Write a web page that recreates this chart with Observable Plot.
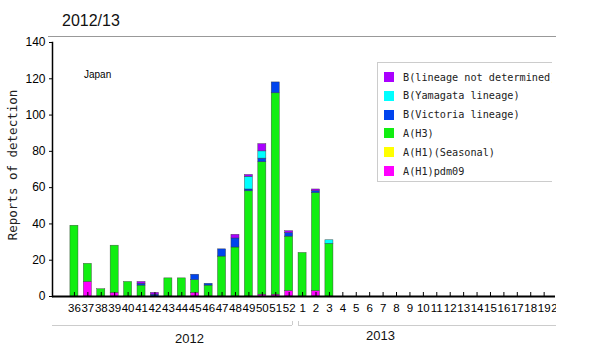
<!DOCTYPE html>
<html>
<head>
<meta charset="utf-8">
<script src="https://cdn.jsdelivr.net/npm/d3@7"></script>
<script src="https://cdn.jsdelivr.net/npm/@observablehq/plot@0.6"></script>
<style>
  body { margin: 0; background: #fff; }
  #wrap { position: relative; width: 556px; height: 360px; overflow: hidden; font-family: "Liberation Sans", Arial, sans-serif; }
  #wrap svg { position: absolute; left: 0; top: 0; max-width: none !important; width: 600px; height: 360px; }
  .abs { position: absolute; white-space: nowrap; }
</style>
</head>
<body>
<div id="wrap"></div>
<script>
// ---- data ----
const weeks = ["36","37","38","39","40","41","42","43","44","45","46","47","48","49","50","51","52",
               "1","2","3","4","5","6","7","8","9","10","11","12","13","14","15","16","17","18","19","20"];
// series listed bottom -> top of the stack
const seriesNames = ["A(H1)pdm09", "A(H1)(Seasonal)", "A(H3)", "B(Victoria lineage)", "B(Yamagata lineage)", "B(lineage not determined)"];
const seriesColors = ["#ff00ff", "#ffff00", "#11ee11", "#0044ee", "#00ffff", "#aa00ff"];
const pdm09    = [0,8,0,2,0,0,0,0,0,2,0,0,0,0,1,1,3, 0,3,0, 0,0,0,0,0,0,0,0,0,0,0,0,0,0,0,0,0];
const seasonal = [0,0,0,0,0,0,0,0,0,0,0,0,0,0,0,0,0, 0,0,0, 0,0,0,0,0,0,0,0,0,0,0,0,0,0,0,0,0];
const h3       = [39,10,4,26,8,6,0,10,10,7,6,22,27,58,73,111,30, 24,54,29, 0,0,0,0,0,0,0,0,0,0,0,0,0,0,0,0,0];
const victoria = [0,0,0,0,0,1,1,0,0,3,1,4,5,1,2,6,2, 0,1,0, 0,0,0,0,0,0,0,0,0,0,0,0,0,0,0,0,0];
const yamagata = [0,0,0,0,0,0,0,0,0,0,0,0,0,7,4,0,0, 0,0,2, 0,0,0,0,0,0,0,0,0,0,0,0,0,0,0,0,0];
const notDet   = [0,0,0,0,0,1,1,0,0,0,0,0,2,1,4,0,1, 0,1,0, 0,0,0,0,0,0,0,0,0,0,0,0,0,0,0,0,0];
const yTicks = [0,20,40,60,80,100,120,140];
const years = ["2012", "2013"];
const titleText = "2012/13";
const regionText = "Japan";
const yLabel = "Reports of detection";

const seriesValues = [pdm09, seasonal, h3, victoria, yamagata, notDet];
const rows = [];
weeks.forEach((w, i) => seriesNames.forEach((s, j) => rows.push({week: w, series: s, value: seriesValues[j][i]})));

const plot = Plot.plot({
  width: 600,
  height: 360,
  marginTop: 42,
  marginBottom: 64,
  marginLeft: 52,
  marginRight: 45,
  style: {fontFamily: "'Liberation Sans', Arial, sans-serif", fontSize: "12px", background: "transparent"},
  x: {domain: weeks, range: [69.9, 561.1], paddingInner: 0.4, paddingOuter: 0, round: false, label: null},
  y: {domain: [0, 140], label: null},
  color: {domain: seriesNames, range: seriesColors},
  marks: [
    Plot.barY(rows, {x: "week", y: "value", fill: "series", order: seriesNames, stroke: "#333", strokeWidth: 0.5, strokeOpacity: 0.8}),
    Plot.axisY({ticks: yTicks, tickSize: 3, tickPadding: 4, fontSize: 12, label: null}),
    Plot.axisX({tickSize: -4, tickPadding: 11, fontSize: 11.5, label: null, stroke: "black"}),
    Plot.frame({anchor: "left", stroke: "black", strokeWidth: 1.5}),
    Plot.ruleY([0], {stroke: "black", strokeWidth: 2})
  ]
});

const wrap = document.getElementById("wrap");
wrap.appendChild(plot);

function addDiv(text, css) {
  const d = document.createElement("div");
  d.className = "abs";
  d.textContent = text;
  Object.assign(d.style, css);
  wrap.appendChild(d);
  return d;
}

// title + top rule
addDiv(titleText, {left: "62px", top: "12px", fontSize: "16px", color: "#111"});
addDiv("", {left: "48px", top: "36px", width: "520px", borderTop: "1px solid #999"});
addDiv(regionText, {left: "84px", top: "69px", fontSize: "10px", color: "#000"});

// y label
addDiv(yLabel, {left: "12px", top: "165px", fontFamily: "'DejaVu Sans Mono', monospace", fontSize: "12.5px",
  transform: "translate(-50%, -50%) rotate(-90deg)", color: "#222"});

// legend (right side cut off like the reference)
const leg = addDiv("", {left: "377px", top: "62px", width: "174px", height: "118px", border: "1px solid #ccc", borderRight: "none", background: "#fff", overflow: "hidden"});
seriesNames.slice().reverse().forEach((s, k) => {
  const c = seriesColors[seriesNames.indexOf(s)];
  const row = document.createElement("div");
  Object.assign(row.style, {position: "absolute", left: "6px", top: (8 + k * 18.8) + "px", height: "12px", display: "flex", alignItems: "center", whiteSpace: "nowrap"});
  const sw = document.createElement("span");
  Object.assign(sw.style, {display: "inline-block", width: "10px", height: "10px", background: c, marginRight: "9px", flex: "none"});
  const tx = document.createElement("span");
  tx.textContent = s;
  Object.assign(tx.style, {fontFamily: "'DejaVu Sans Mono', monospace", fontSize: "10.2px", color: "#222"});
  row.appendChild(sw); row.appendChild(tx);
  leg.appendChild(row);
});

// year axis beneath week labels
const xs = plot.scale("x");
const breakX = (xs.apply("52") + xs.apply("1") + xs.bandwidth) / 2;
addDiv("", {left: "52px", top: "325px", width: (breakX - 3 - 52) + "px", borderTop: "1px solid #ccc"});
addDiv("", {left: (breakX + 3) + "px", top: "325px", width: "300px", borderTop: "1px solid #ccc"});
addDiv("", {left: (breakX - 3) + "px", top: "321px", height: "4px", borderLeft: "1px solid #ccc"});
addDiv("", {left: (breakX + 3) + "px", top: "321px", height: "4px", borderLeft: "1px solid #ccc"});
addDiv(years[0], {left: "175px", top: "331px", fontSize: "13px", color: "#111"});
addDiv(years[1], {left: "366px", top: "328px", fontSize: "13px", color: "#111"});
</script>
</body>
</html>
